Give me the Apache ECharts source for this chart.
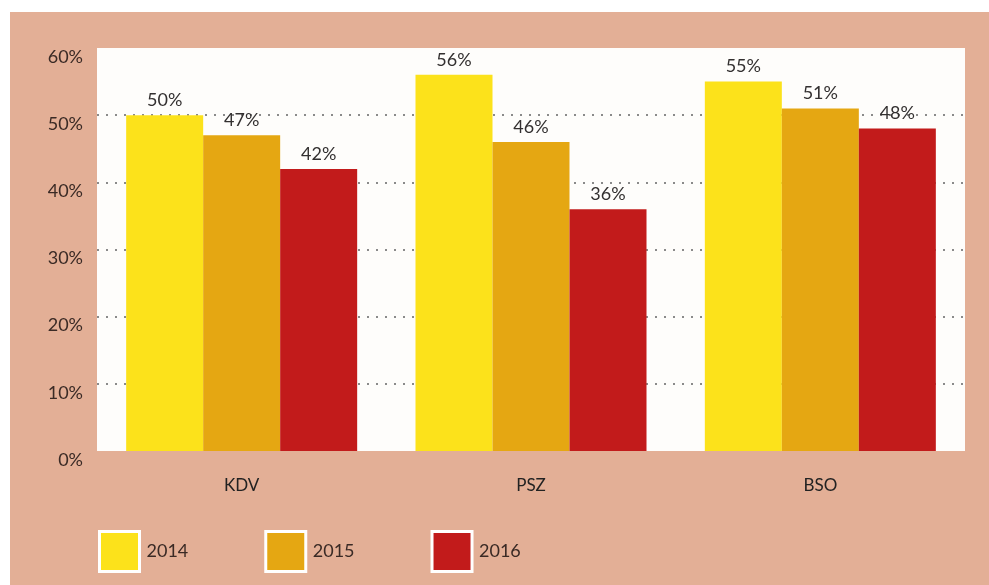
<!DOCTYPE html>
<html>
<head>
<meta charset="utf-8">
<script src="https://cdn.jsdelivr.net/npm/echarts@6/dist/echarts.min.js"></script>
<style>
  html, body { margin: 0; padding: 0; background: #ffffff; }
  #chart { width: 989px; height: 585px; }
</style>
</head>
<body>
<div id="chart"></div>
<script>
// kategorije i vrijednosti (%)
const categories = ['KDV', 'PSZ', 'BSO']
const years = ['2014', '2015', '2016']
const values2014 = [50, 56, 55]
const values2015 = [47, 46, 51]
const values2016 = [42, 36, 48]
const yTicks = [0, 10, 20, 30, 40, 50, 60]

const colors = ['#FCE21B', '#E5A712', '#C21B1B']
const allValues = [values2014, values2015, values2016]

let series = []
for (let i = 0; i < years.length; i++) {
    series.push({
        name: years[i],
        type: 'bar',
        barWidth: 77,
        barGap: '0%',
        itemStyle: { color: colors[i] },
        label: {
            show: true,
            position: 'top',
            distance: 6,
            formatter: '{c}%',
            color: '#333030',
            fontSize: 18,
            fontFamily: 'Lato'
        },
        data: allValues[i]
    })
}

const chart = echarts.init(document.getElementById('chart'))
chart.setOption({
    animation: false,
    backgroundColor: '#ffffff',
    graphic: [{
        type: 'rect',
        z: -10,
        shape: { x: 10, y: 12, width: 979, height: 573 },
        style: { fill: '#E3AF96' }
    }],
    legend: {
        data: years.map((y, i) => ({
            name: y,
            itemStyle: { color: colors[i], borderColor: '#ffffff', borderWidth: 3 }
        })),
        left: 93,
        top: 525,
        itemWidth: 40,
        itemHeight: 40,
        itemGap: 76,
        icon: 'rect',
        textStyle: { color: '#3a2a25', fontSize: 18, fontFamily: 'Lato', padding: [0, 0, 0, 2] }
    },
    grid: {
        left: 97,
        right: 24,
        top: 48,
        bottom: 134,
        show: true,
        backgroundColor: '#FEFDFB',
        borderWidth: 0
    },
    xAxis: {
        type: 'category',
        data: categories,
        axisLine: { show: false },
        axisTick: { show: false },
        axisLabel: { color: '#222222', fontSize: 17, fontFamily: 'Lato', margin: 26 }
    },
    yAxis: {
        type: 'value',
        min: yTicks[0],
        max: yTicks[yTicks.length - 1],
        interval: 10,
        axisLine: { show: false },
        axisTick: { show: false },
        axisLabel: {
            formatter: '{value}%',
            color: '#3a2a25',
            fontSize: 18,
            fontFamily: 'Lato',
            margin: 14,
            verticalAlign: 'top'
        },
        splitLine: {
            show: true,
            showMinLine: false,
            showMaxLine: false,
            lineStyle: { color: '#8a8a8a', type: [2, 7], width: 2 }
        }
    },
    series: series
})
</script>
</body>
</html>
